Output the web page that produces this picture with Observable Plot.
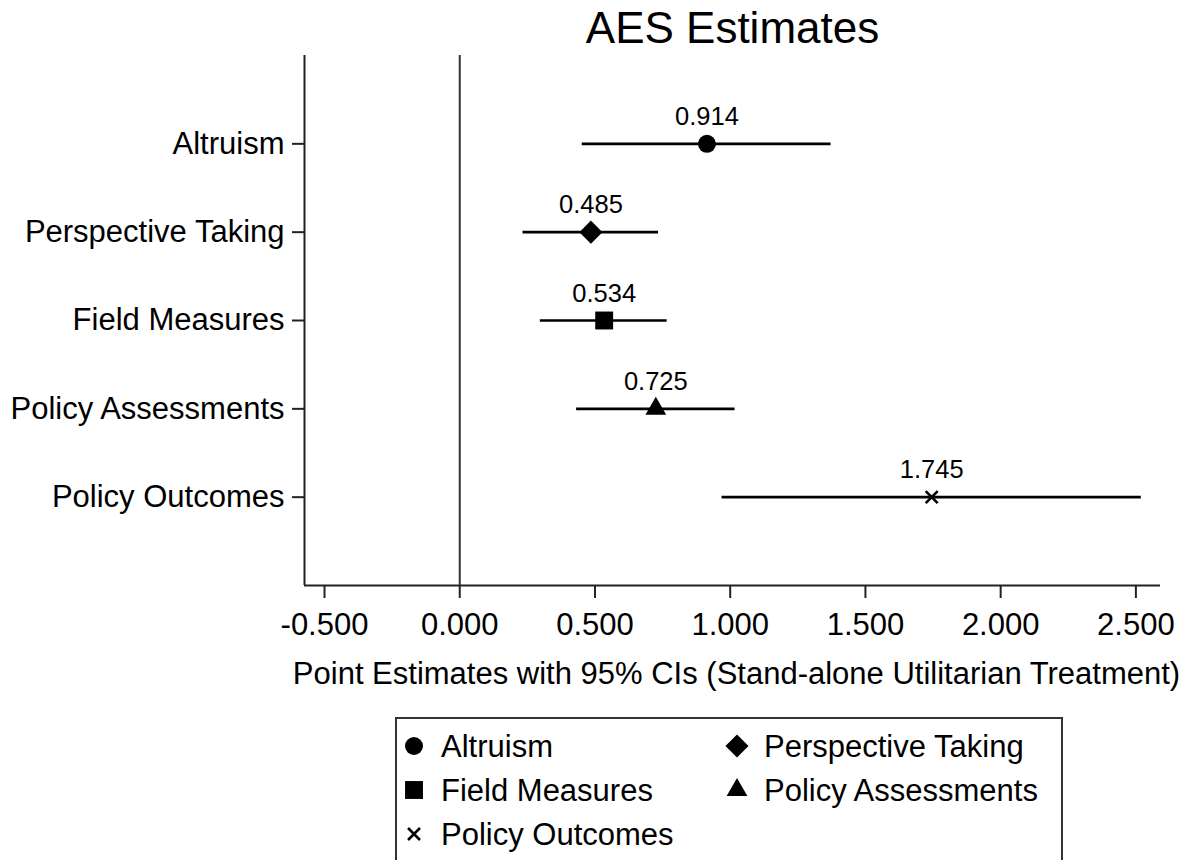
<!DOCTYPE html>
<html>
<head>
<meta charset="utf-8">
<script src="https://cdn.jsdelivr.net/npm/d3@7"></script>
<script src="https://cdn.jsdelivr.net/npm/@observablehq/plot@0.6"></script>
<style>
  html, body { margin: 0; padding: 0; background: #fff; }
  body { width: 1189px; height: 860px; overflow: hidden; position: relative; font-family: "Liberation Sans", Arial, sans-serif; }
  #chart { position: absolute; left: 0; top: 0; }
  #legend { position: absolute; left: 395px; top: 717px; }
</style>
</head>
<body>
<div id="chart"></div>
<div id="legend"></div>
<script>
// ---- data ----
const categories = ["Altruism", "Perspective Taking", "Field Measures", "Policy Assessments", "Policy Outcomes"];
const estimates = [0.914, 0.485, 0.534, 0.725, 1.745];
const ciLow = [0.453, 0.234, 0.298, 0.432, 0.970];
const ciHigh = [1.373, 0.735, 0.767, 1.018, 2.520];
const xTicks = [-0.5, 0, 0.5, 1, 1.5, 2, 2.5];
const xDomain = [-0.574, 2.591];
const yDomain = [0, 6];
const titleText = "AES Estimates";
const xLabelText = "Point Estimates with 95% CIs (Stand-alone Utilitarian Treatment)";
const legendOrder = ["Altruism", "Perspective Taking", "Field Measures", "Policy Assessments", "Policy Outcomes"];

// ---- styles (marker shapes) ----
const markerStyle = {
  "Altruism": {symbol: "circle", r: 9, filled: true},
  "Perspective Taking": {symbol: "diamond2", r: 10.4, filled: true},
  "Field Measures": {symbol: "square", r: 10.1, filled: true},
  "Policy Assessments": {symbol: "triangle", r: 7.7, filled: true},
  "Policy Outcomes": {symbol: "times", r: 5.5, filled: false}
};

const rows = categories.map((c, i) => ({cat: c, pos: i + 1, est: estimates[i], lo: ciLow[i], hi: ciHigh[i]}));

const fmt = d => d.toFixed(3);

const dotMarks = categories.map(c => {
  const s = markerStyle[c];
  return Plot.dot(rows.filter(d => d.cat === c), {
    x: "est", y: "pos", symbol: () => s.symbol, r: s.r,
    fill: s.filled ? "black" : "none",
    stroke: s.filled ? "none" : "black",
    strokeWidth: s.filled ? 0 : 2.6
  });
});

const chart = Plot.plot({
  width: 1189,
  height: 700,
  marginTop: 55,
  marginBottom: 115,
  marginLeft: 304,
  marginRight: 29,
  style: {fontFamily: '"Liberation Sans", Arial, sans-serif', color: "black", background: "white", overflow: "visible"},
  x: {domain: xDomain},
  y: {domain: yDomain, reverse: true},
  symbol: {type: "identity"},
  marks: [
    Plot.ruleX([xDomain[0]], {stroke: "#222", strokeWidth: 2}),
    Plot.ruleY([yDomain[1]], {stroke: "#222", strokeWidth: 2}),
    Plot.ruleX([0], {stroke: "#333", strokeWidth: 2}),
    Plot.axisX({ticks: xTicks, tickFormat: fmt, tickSize: 13, tickPadding: 14, fontSize: 31, strokeWidth: 2, stroke: "#222", label: null}),
    Plot.axisY({ticks: categories.map((c, i) => i + 1), tickFormat: d => categories[d - 1], tickSize: 12, tickPadding: 8, fontSize: 31, strokeWidth: 2, stroke: "#222", label: null}),
    Plot.ruleY(rows, {y: "pos", x1: "lo", x2: "hi", stroke: "black", strokeWidth: 2.6}),
    ...dotMarks,
    Plot.text(rows, {x: "est", y: "pos", text: d => fmt(d.est), dy: -19, lineAnchor: "bottom", fontSize: 25.5, fill: "black"}),
    Plot.text([titleText], {frameAnchor: "top", dy: -13, lineAnchor: "bottom", fontSize: 44, fill: "black"}),
    Plot.text([xLabelText], {frameAnchor: "bottom", dx: 4, dy: 98, lineAnchor: "bottom", fontSize: 31, fill: "black"})
  ]
});
document.getElementById("chart").appendChild(chart);

// ---- legend ----
const lw = 668, lh = 200;
const lsvg = d3.select("#legend").append("svg").attr("width", lw).attr("height", lh)
  .style("font-family", '"Liberation Sans", Arial, sans-serif').style("overflow", "visible");
lsvg.append("rect").attr("x", 1).attr("y", 1).attr("width", lw - 2).attr("height", lh)
  .attr("fill", "white").attr("stroke", "#333").attr("stroke-width", 2);
const symMap = {circle: d3.symbolCircle, diamond2: d3.symbolDiamond2, square: d3.symbolSquare, triangle: d3.symbolTriangle, times: d3.symbolTimes};
const colX = [19, 342], textX = [46, 369], rowY = [29, 73, 117];
legendOrder.forEach((c, i) => {
  const s = markerStyle[c];
  const col = i % 2, row = Math.floor(i / 2);
  const g = lsvg.append("g").attr("transform", `translate(${colX[col]},${rowY[row]})`);
  g.append("path").attr("d", d3.symbol(symMap[s.symbol], s.r * s.r * Math.PI)())
    .attr("fill", s.filled ? "black" : "none")
    .attr("stroke", s.filled ? "none" : "black")
    .attr("stroke-width", s.filled ? 0 : 2.6);
  lsvg.append("text").attr("x", textX[col]).attr("y", rowY[row]).attr("dy", "0.36em")
    .attr("font-size", 31).attr("fill", "black").text(c);
});
</script>
</body>
</html>
